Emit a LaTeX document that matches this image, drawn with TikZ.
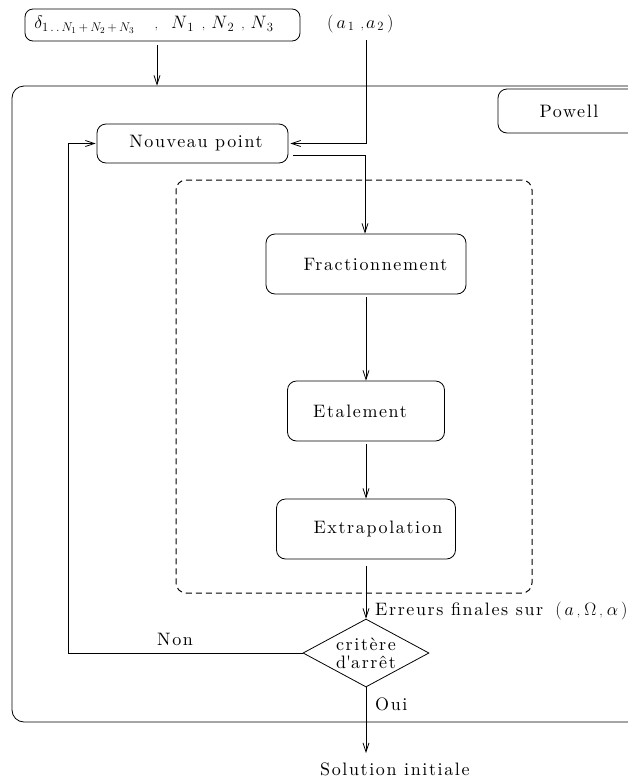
\RequirePackage{fix-cm}
\documentclass[tikz,border=0pt]{standalone}
\usepackage[no-math]{fontspec}
\setmainfont{lmroman10-regular}[Extension=.otf, LetterSpace=9]
\usetikzlibrary{arrows.meta,shapes.geometric}

\tikzset{
  every node/.style={font=\fontsize{18}{18}\selectfont},
  stage/.style={draw, rounded corners=9pt, line width=0.8pt, inner sep=0pt},
  decision/.style={diamond, draw, line width=0.8pt, aspect=1.85, inner sep=0pt, align=center},
  group/.style={draw, dash pattern=on 6pt off 4pt, rounded corners=10pt, line width=1pt, inner sep=0pt},
  lbl/.style={anchor=base west, inner sep=0pt},
  link/.style={line width=0.8pt},
  arr/.style={link, -{Straight Barb[length=9pt,width=6pt]}},
}
% small comma used between the terms of the tuples
\newcommand\pc{{\scriptstyle,}}

\begin{document}
\begin{tikzpicture}[x=1pt,y=-1pt]
\useasboundingbox (0,0) rectangle (628,782);
\clip (0,0) rectangle (628,782);

% outer frame of the Powell loop (open on the right)
\node[stage, rounded corners=12pt, minimum width=648pt, minimum height=636pt] (frame) at (336,404) {};
\node[stage, minimum width=142pt, minimum height=44pt] (powell) at (569,111) {Powell};

% inputs
\node[stage, rounded corners=8pt, minimum width=275pt, minimum height=32pt] (inp) at (162.5,25)
  {$\delta_{1\,.\,.\,N_1\,+\,N_2\,+\,N_3}\hspace{20pt}\pc\hspace{13pt}N_{\,1}\hspace{8pt}\pc\hspace{6pt}N_{\,2}\hspace{7pt}\pc\hspace{6pt}N_{\,3}$\hspace*{17pt}};
\node[lbl] (aa) at (327,28) {$(\,a_{\,1}\hspace{6pt}\pc\hspace{2pt}a_{\,2}\,)$};
\coordinate (inpout) at (157,45);
\coordinate (ain) at (366,40);

% loop body
\node[stage, minimum width=191pt, minimum height=39pt] (np) at (192.5,143.5) {\hspace*{7pt}Nouveau point};
\node[group, minimum width=356pt, minimum height=413pt] (grp) at (354,386.5) {};
\node[stage, minimum width=200pt, minimum height=60pt] (frac) at (366,264) {\hspace*{19pt}Fractionnement};
\node[stage, minimum width=157pt, minimum height=60pt] (eta) at (366,411) {Etalement\hspace*{12pt}};
\node[stage, minimum width=179pt, minimum height=60pt] (ext) at (366,529) {\hspace*{24pt}Extrapolation};
\node[decision, minimum width=126pt, minimum height=68pt] (dia) at (366,653) {critère\\d\textquotesingle arrêt};

% labels
\node[lbl] (err) at (375,615) {Erreurs finales sur\hspace{12pt}$(\,a\hspace{3pt}\pc\hspace{4pt}\Omega\hspace{3pt}\pc\hspace{4pt}\alpha\,)$};
\node[lbl] (non) at (157,645) {Non};
\node[lbl] (oui) at (375,710) {Oui};
\node[lbl] (sol) at (320,775) {Solution initiale};

% connectors
\draw[arr] (inpout) -- (inpout |- frame.north);
\draw[arr] (ain) |- ([xshift=2pt]np.east);
\draw[arr] ([xshift=5pt,yshift=-11.5pt]np.east) -| ([xshift=-1pt]frac.north);
\draw[arr, shorten <=3pt] (frac.south) -- (eta.north);
\draw[arr, shorten <=3pt] (eta.south) -- (ext.north);
\draw[arr, shorten <=7pt] (ext.south) -- (dia.north);
\draw[arr, shorten >=9pt] (dia.south) -- (dia.south |- sol.north);
\draw[arr] (dia.west) -- ++(-234,0) |- ([xshift=-1pt]np.west);
\end{tikzpicture}
\end{document}
